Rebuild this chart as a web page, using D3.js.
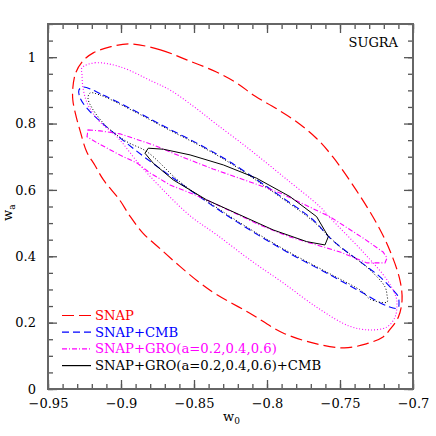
<!DOCTYPE html>
<html>
<head>
<meta charset="utf-8">
<script src="https://cdn.jsdelivr.net/npm/d3@7"></script>
<style>
  body { margin: 0; background: #fff; }
  text { font-family: "DejaVu Serif", serif; }
</style>
</head>
<body>
<div id="chart"></div>
<script>
// contour points: [w0, wa]
var snap = [
  [-0.894,1.040],[-0.873,1.022],[-0.855,0.992],[-0.835,0.956],[-0.821,0.923],[-0.808,0.882],
  [-0.794,0.846],[-0.780,0.806],[-0.766,0.755],[-0.755,0.700],[-0.739,0.600],[-0.725,0.500],
  [-0.716,0.419],[-0.709,0.329],[-0.7075,0.268],[-0.710,0.217],[-0.716,0.178],[-0.7205,0.157],
  [-0.732,0.136],[-0.747,0.124],[-0.766,0.136],[-0.789,0.169],[-0.812,0.229],[-0.835,0.286],
  [-0.846,0.320],[-0.860,0.371],[-0.873,0.422],[-0.885,0.470],[-0.894,0.522],[-0.901,0.570],
  [-0.912,0.630],[-0.918,0.675],[-0.9235,0.715],[-0.928,0.778],[-0.931,0.826],[-0.933,0.871],
  [-0.933,0.907],[-0.931,0.953],[-0.926,0.989],[-0.919,1.013],[-0.9075,1.031]
];
var snapCmb = [
  [-0.926,0.910],[-0.9123,0.886],[-0.889,0.835],[-0.8685,0.787],[-0.8459,0.736],[-0.8253,0.684],
  [-0.8048,0.624],[-0.7911,0.582],[-0.7685,0.510],[-0.7568,0.455],[-0.7452,0.413],[-0.7342,0.377],
  [-0.7226,0.338],[-0.7137,0.298],[-0.7103,0.280],[-0.7096,0.262],[-0.7103,0.244],[-0.7178,0.250],
  [-0.7342,0.289],[-0.7568,0.344],[-0.7863,0.413],[-0.8116,0.479],[-0.8342,0.543],[-0.8596,0.621],
  [-0.8849,0.702],[-0.9007,0.757],[-0.9123,0.799],[-0.9235,0.847],[-0.928,0.877],[-0.9288,0.901]
];
var snapGroWide = [
  [-0.9267,0.968],[-0.9178,0.983],[-0.9007,0.971],[-0.8781,0.926],[-0.8664,0.901],[-0.8507,0.853],
  [-0.8349,0.799],[-0.8116,0.721],[-0.7877,0.636],[-0.7637,0.549],[-0.7568,0.516],[-0.7342,0.413],
  [-0.7178,0.329],[-0.7116,0.277],[-0.711,0.253],[-0.7123,0.217],[-0.7178,0.187],[-0.7295,0.178],
  [-0.7438,0.190],[-0.7651,0.244],[-0.789,0.320],[-0.8116,0.389],[-0.8342,0.464],[-0.8527,0.522],
  [-0.8712,0.600],[-0.887,0.675],[-0.9027,0.760],[-0.9144,0.805],[-0.9226,0.856],[-0.926,0.907],
  [-0.9267,0.947]
];
var snapGro = [
  [-0.9226,0.781],[-0.9144,0.778],[-0.9007,0.769],[-0.8781,0.736],[-0.8596,0.702],[-0.837,0.663],
  [-0.8116,0.624],[-0.7911,0.591],[-0.7568,0.519],[-0.7342,0.455],[-0.7205,0.413],[-0.7178,0.395],
  [-0.7192,0.380],[-0.7315,0.380],[-0.75,0.413],[-0.7637,0.431],[-0.7842,0.458],[-0.8048,0.494],
  [-0.8253,0.537],[-0.8459,0.579],[-0.8664,0.615],[-0.8801,0.651],[-0.889,0.681],[-0.9007,0.705],
  [-0.9164,0.742],[-0.9233,0.760]
];
var snapGroCmbWide = [
  [-0.9212,0.892],[-0.9144,0.886],[-0.889,0.832],[-0.8685,0.784],[-0.8459,0.733],[-0.8253,0.681],
  [-0.8048,0.621],[-0.7911,0.579],[-0.7685,0.506],[-0.75,0.428],[-0.7397,0.395],[-0.7295,0.359],
  [-0.7192,0.308],[-0.7178,0.283],[-0.7178,0.262],[-0.7295,0.271],[-0.7342,0.292],[-0.7568,0.347],
  [-0.7863,0.416],[-0.8116,0.482],[-0.8342,0.546],[-0.8596,0.624],[-0.8822,0.715],[-0.8959,0.745],
  [-0.9096,0.790],[-0.9199,0.847],[-0.9226,0.877]
];
var snapGroCmb = [
  [-0.8836,0.7106],[-0.8813,0.7257],[-0.8710,0.7226],[-0.8527,0.7055],[-0.8299,0.6753],[-0.8071,0.6352],
  [-0.7842,0.5797],[-0.7660,0.5194],[-0.7580,0.4591],[-0.7603,0.4341],[-0.7728,0.4441],[-0.7957,0.4793],
  [-0.8185,0.5246],[-0.8413,0.5698],[-0.8642,0.6301],[-0.8779,0.6804]
];

var xTicks = [-0.95, -0.9, -0.85, -0.8, -0.75, -0.7];
var yTicks = [0, 0.2, 0.4, 0.6, 0.8, 1];
var legendLabels = ["SNAP", "SNAP+CMB", "SNAP+GRO(a=0.2,0.4,0.6)", "SNAP+GRO(a=0.2,0.4,0.6)+CMB"];
var legendColors = ["#ff0000", "#0000ff", "#ff00ff", "#000000"];
var legendDash = ["12,5", "7,4", "5,2,1,2", null];

var width = 436, height = 436;
var svg = d3.select("#chart").append("svg")
    .attr("width", width)
    .attr("height", height);

var x = d3.scaleLinear().domain([-0.95, -0.7]).range([48, 413]);
var y = d3.scaleLinear().domain([0, 1.1]).range([389, 24]);
var fmt = d3.format("~g");

var smooth = d3.line()
    .x(function(d) { return x(d[0]); })
    .y(function(d) { return y(d[1]); })
    .curve(d3.curveCatmullRomClosed.alpha(0.5));
var poly = d3.line()
    .x(function(d) { return x(d[0]); })
    .y(function(d) { return y(d[1]); })
    .curve(d3.curveLinearClosed);

// contours
var contours = [
  {data: snap, color: "#ff0000", dash: "12,5", w: 1.2, line: smooth},
  {data: snapCmb, color: "#0000ff", dash: "7,4", w: 1.1, line: smooth},
  {data: snapGroWide, color: "#ff00ff", dash: "1,2", w: 1.1, line: smooth},
  {data: snapGro, color: "#ff00ff", dash: "5,2,1,2", w: 1.1, line: poly},
  {data: snapGroCmbWide, color: "#000000", dash: "1,2", w: 1, line: smooth},
  {data: snapGroCmb, color: "#000000", dash: null, w: 1, line: poly}
];
svg.selectAll("path.contour")
    .data(contours)
    .enter()
    .append("path")
      .attr("class", "contour")
      .attr("d", function(d) { return d.line(d.data); })
      .attr("fill", "none")
      .attr("stroke", function(d) { return d.color; })
      .attr("stroke-width", function(d) { return d.w; })
      .attr("stroke-dasharray", function(d) { return d.dash; });

// axes, ticks pointing inward on all four sides
function styleAxis(g) {
  g.select(".domain").remove();
  g.selectAll("line").attr("stroke", "#555").attr("stroke-width", 1.3);
  g.selectAll("text").attr("font-family", "DejaVu Serif").attr("font-size", 13).attr("fill", "#000");
}
var xMinor = x.ticks(25), yMinor = y.ticks(22);

svg.append("g").attr("transform", "translate(0,389)")
    .call(d3.axisBottom(x).tickValues(xMinor).tickSize(-5).tickFormat(""))
    .call(styleAxis);
svg.append("g").attr("transform", "translate(0,389)")
    .call(d3.axisBottom(x).tickValues(xTicks).tickSize(-9).tickPadding(9.5).tickFormat(fmt))
    .call(styleAxis);
svg.append("g").attr("transform", "translate(0,24)")
    .call(d3.axisTop(x).tickValues(xMinor).tickSize(-5).tickFormat(""))
    .call(styleAxis);
svg.append("g").attr("transform", "translate(0,24)")
    .call(d3.axisTop(x).tickValues(xTicks).tickSize(-9).tickFormat(""))
    .call(styleAxis);
svg.append("g").attr("transform", "translate(48,0)")
    .call(d3.axisLeft(y).tickValues(yMinor).tickSize(-5).tickFormat(""))
    .call(styleAxis);
svg.append("g").attr("transform", "translate(48,0)")
    .call(d3.axisLeft(y).tickValues(yTicks).tickSize(-9).tickPadding(12).tickFormat(fmt))
    .call(styleAxis);
svg.append("g").attr("transform", "translate(413,0)")
    .call(d3.axisRight(y).tickValues(yMinor).tickSize(-5).tickFormat(""))
    .call(styleAxis);
svg.append("g").attr("transform", "translate(413,0)")
    .call(d3.axisRight(y).tickValues(yTicks).tickSize(-9).tickFormat(""))
    .call(styleAxis);

// frame
svg.append("rect")
    .attr("x", 48).attr("y", 24)
    .attr("width", 365).attr("height", 365)
    .attr("fill", "none")
    .attr("stroke", "#666")
    .attr("stroke-width", 2);

// axis titles
var xt = svg.append("text").attr("x", 223).attr("y", 421).attr("font-size", 13);
xt.append("tspan").text("w");
xt.append("tspan").attr("dy", 3).attr("font-size", 9).text("0");

var yt = svg.append("text").attr("transform", "translate(12,221) rotate(-90)").attr("font-size", 13);
yt.append("tspan").text("w");
yt.append("tspan").attr("dy", 3).attr("font-size", 9).text("a");

svg.append("text")
    .attr("x", 398).attr("y", 46.5)
    .attr("text-anchor", "end")
    .attr("font-size", 13)
    .text("SUGRA");

// legend
var legend = svg.selectAll("g.legend")
    .data(legendLabels)
    .enter()
    .append("g")
      .attr("class", "legend")
      .attr("transform", function(d, i) { return "translate(0," + (315.5 + i * 16.7) + ")"; });
legend.append("line")
    .attr("x1", 62).attr("x2", 91)
    .attr("stroke", function(d, i) { return legendColors[i]; })
    .attr("stroke-width", 1.2)
    .attr("stroke-dasharray", function(d, i) { return legendDash[i]; });
legend.append("text")
    .attr("x", 95).attr("y", 4.5)
    .attr("font-size", 13.2)
    .attr("fill", function(d, i) { return legendColors[i]; })
    .text(function(d) { return d; });
</script>
</body>
</html>
